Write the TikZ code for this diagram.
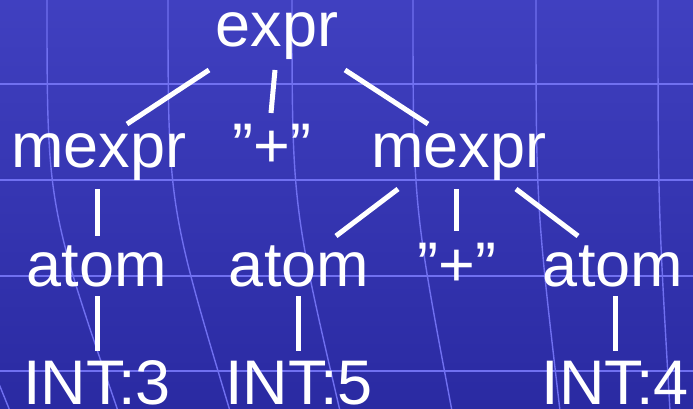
\documentclass[tikz,border=0pt]{standalone}
\usepackage{fontspec}
\setmainfont{Liberation Sans}
\definecolor{bgtop}{RGB}{64,64,192}
\definecolor{bgbot}{RGB}{42,42,162}
\definecolor{gridc}{RGB}{112,112,240}
\begin{document}
\begin{tikzpicture}[x=1pt,y=-1pt,
  lbl/.style={text=white,font=\fontsize{63}{63}\selectfont,inner sep=0pt,anchor=base},
  edge/.style={draw=white,line width=5pt},
  gridline/.style={draw=gridc,line width=1.4pt}]
\useasboundingbox (0,0) rectangle (693,409);
\shade[top color=bgtop,bottom color=bgbot] (0,0) rectangle (693,409);
\begin{scope}
  \clip (0,0) rectangle (693,409);
  \foreach \yy in {84,180,276,371}
    \draw[gridline] (-5,\yy) -- (698,\yy);
  \foreach \xx/\dd in {-74/84,47/71,168/62,292/48,413/39,536/24,658/12}
    \draw[gridline] (\xx,-2) .. controls (\xx,204.5) .. ({\xx+\dd},411);
\end{scope}
% nodes
\node[lbl] (expr)  at (277,47)  {expr};
\node[lbl] (mL)    at (99,167)  {mexpr};
\node[lbl] (plus1) at (272,167) {”+”};
\node[lbl] (mR)    at (459,167) {mexpr};
\node[lbl] (aL)    at (97,286)  {atom};
\node[lbl] (a2)    at (299,286) {atom};
\node[lbl] (plus2) at (457,286) {”+”};
\node[lbl] (a3)    at (613,286) {atom};
\node[lbl] (i3)    at (97,404)  {INT:3};
\node[lbl] (i5)    at (299,404) {INT:5};
\node[lbl] (i4)    at (615,404) {INT:4};
% edges
\draw[edge] ([shift={(-68,23)}]expr.base) -- ([shift={(28,-43)}]mL.base);
\draw[edge] ([shift={(-2,23)}]expr.base) -- ([shift={(-1,-54)}]plus1.base);
\draw[edge] ([shift={(68,23)}]expr.base) -- ([shift={(-31,-43)}]mR.base);
\draw[edge] ([shift={(-2,22)}]mL.base) -- ([shift={(0,-50)}]aL.base);
\draw[edge] ([shift={(-61,22)}]mR.base) -- ([shift={(37,-50)}]a2.base);
\draw[edge] ([shift={(-3,22)}]mR.base) -- ([shift={(-1,-55)}]plus2.base);
\draw[edge] ([shift={(57,22)}]mR.base) -- ([shift={(-35,-50)}]a3.base);
\draw[edge] ([shift={(0,10)}]aL.base) -- ([shift={(0,-53)}]i3.base);
\draw[edge] ([shift={(-1,10)}]a2.base) -- ([shift={(-1,-53)}]i5.base);
\draw[edge] ([shift={(2,10)}]a3.base) -- ([shift={(0,-53)}]i4.base);
\end{tikzpicture}
\end{document}
